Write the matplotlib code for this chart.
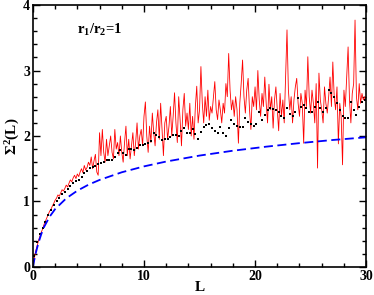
import numpy as np
import matplotlib
matplotlib.use('Agg')
import matplotlib.pyplot as plt
from matplotlib.ticker import MultipleLocator

plt.rcParams['font.family'] = 'Liberation Serif'
plt.rcParams['font.weight'] = 'bold'
plt.rcParams['mathtext.fontset'] = 'custom'
plt.rcParams['mathtext.rm'] = 'Liberation Serif:bold'
plt.rcParams['mathtext.it'] = 'Liberation Serif:bold'
plt.rcParams['mathtext.bf'] = 'Liberation Serif:bold'

# red curve, L = 0 .. 30 in steps of 0.125
red_L = np.linspace(0, 30, 241)
red_S = [
    0.00, 0.13, 0.24, 0.32, 0.40, 0.47, 0.53, 0.58,
    0.65, 0.70, 0.75, 0.80, 0.85, 0.88, 0.93, 0.97,
    1.02, 1.05, 1.10, 1.08, 1.13, 1.18, 1.16, 1.20,
    1.25, 1.22, 1.28, 1.33, 1.30, 1.36, 1.40, 1.35,
    1.42, 1.38, 1.45, 1.50, 1.44, 1.55, 1.48, 1.52,
    1.60, 1.55, 1.68, 1.50, 1.62, 1.72, 1.45, 1.40,
    2.05, 1.70, 2.10, 1.75, 1.60, 1.95, 1.70, 1.85,
    2.00, 1.75, 1.65, 2.10, 1.80, 1.90, 1.70, 2.00,
    1.75, 1.60, 1.90, 2.15, 1.70, 1.95, 1.65, 1.85,
    2.05, 1.70, 1.90, 2.20, 1.80, 2.00, 2.10, 1.85,
    2.30, 2.52, 2.00, 1.75, 2.15, 1.90, 2.35, 2.05,
    1.85, 2.20, 2.40, 1.95, 2.50, 2.10, 1.70, 2.20,
    2.30, 1.95, 2.15, 2.45, 2.00, 2.30, 2.66, 2.20,
    1.90, 2.60, 2.25, 1.85, 2.40, 2.65, 2.15, 2.35,
    2.10, 2.50, 2.00, 2.30, 1.95, 2.45, 2.76, 2.20,
    2.40, 3.06, 2.50, 2.20, 2.60, 2.30, 2.70, 2.24,
    2.45, 2.35, 2.60, 2.83, 2.40, 2.25, 2.55, 2.40,
    2.20, 2.50, 2.35, 2.80, 2.60, 3.26, 2.70, 2.40,
    2.55, 2.30, 2.60, 2.40, 1.89, 2.50, 2.80, 3.16,
    2.60, 2.35, 2.70, 2.88, 2.40, 2.10, 2.60, 2.45,
    2.75, 2.40, 3.00, 2.55, 2.30, 2.65, 2.45, 2.90,
    2.50, 2.20, 2.79, 2.40, 2.60, 2.12, 2.55, 2.75,
    2.40, 2.08, 2.65, 2.30, 2.55, 2.20, 2.90, 3.62,
    2.70, 2.40, 2.60, 2.20, 2.55, 2.75, 2.88, 2.50,
    2.30, 2.65, 2.50, 1.89, 2.70, 2.45, 3.21, 2.60,
    2.35, 2.70, 2.50, 2.20, 2.80, 1.51, 2.96, 2.55,
    2.40, 2.20, 2.75, 2.50, 2.35, 2.60, 2.90, 2.45,
    3.13, 2.60, 2.40, 2.75, 1.88, 2.50, 2.30, 1.56,
    2.70, 2.45, 2.90, 3.36, 2.55, 2.20, 2.65, 2.80,
    3.77, 2.60, 2.40, 2.80, 2.50, 2.65, 2.55, 2.60,
    2.55,
]

# black dots, L = 0.125 .. 29.875 in steps of 0.25
dot_L = np.arange(0.125, 30, 0.25)
dot_S = [
    0.16, 0.38, 0.50, 0.60, 0.68, 0.79, 0.87, 0.94,
    1.00, 1.06, 1.11, 1.15, 1.19, 1.24, 1.28, 1.31,
    1.33, 1.37, 1.43, 1.47, 1.51, 1.52, 1.54, 1.57,
    1.59, 1.61, 1.63, 1.64, 1.64, 1.68, 1.74, 1.78,
    1.74, 1.71, 1.80, 1.80, 1.78, 1.82, 1.86, 1.87,
    1.88, 1.89, 1.92, 2.05, 2.01, 1.99, 1.94, 1.96,
    1.96, 1.99, 2.01, 2.02, 2.00, 2.08, 2.12, 2.05,
    2.04, 2.10, 2.03, 1.96, 2.06, 2.14, 2.17, 2.19,
    2.12, 2.08, 2.05, 2.13, 2.05, 2.00, 2.12, 2.24,
    2.19, 2.16, 2.14, 2.13, 2.27, 2.22, 2.18, 2.15,
    2.18, 2.37, 2.24, 2.32, 2.39, 2.42, 2.41, 2.40,
    2.37, 2.30, 2.27, 2.42, 2.33, 2.30, 2.37, 2.58,
    2.44, 2.47, 2.42, 2.37, 2.37, 2.45, 2.52, 2.42,
    2.36, 2.42, 2.70, 2.65, 2.60, 2.50, 2.40, 2.30,
    2.28, 2.27, 2.52, 2.40, 2.32, 2.45, 2.52, 2.55,
]

# blue dashed reference curve
blue_L = [0, 0.1, 0.2, 0.3, 0.5, 0.75, 1.0, 1.5, 2, 3, 4, 5, 6, 8, 10,
          12, 15, 18, 21, 24, 27, 30]
blue_S = [0, 0.09, 0.17, 0.24, 0.37, 0.50, 0.61, 0.767, 0.884, 1.048, 1.165,
          1.256, 1.329, 1.446, 1.536, 1.610, 1.701, 1.775, 1.837, 1.891,
          1.939, 1.980]

fig = plt.figure(figsize=(3.74, 2.95), dpi=100)
ax = fig.add_axes([0.088, 0.095, 0.891, 0.888])

ax.plot(red_L, red_S, color='red', lw=0.6)
ax.plot(dot_L, dot_S, 's', color='black', ms=1.7, mew=0)
ax.plot(blue_L, blue_S, color='blue', lw=1.3, dashes=(5, 2.5))

ax.set_xlim(0, 30)
ax.set_ylim(0, 4)
ax.xaxis.set_major_locator(MultipleLocator(10))
ax.xaxis.set_minor_locator(MultipleLocator(2))
ax.yaxis.set_major_locator(MultipleLocator(1))
ax.yaxis.set_minor_locator(MultipleLocator(0.2))
ax.tick_params(which='both', direction='in', top=True, right=True,
               labelsize=10, width=1.0)
ax.tick_params(which='major', length=5, pad=2)
ax.tick_params(which='minor', length=3)
for sp in ax.spines.values():
    sp.set_linewidth(1.2)
for lab in ax.get_xticklabels() + ax.get_yticklabels():
    lab.set_fontweight('bold')

ax.set_xlabel('L', fontsize=11, fontweight='bold', labelpad=-1)
ax.set_ylabel(r'$\Sigma^2$(L)', fontsize=11, fontweight='bold', labelpad=1)
ax.text(4.0, 3.62, r'$\mathbf{r_1/r_2}$=1', fontsize=10.5, va='center',
        fontweight='bold')

fig.savefig('out.png', dpi=100)
